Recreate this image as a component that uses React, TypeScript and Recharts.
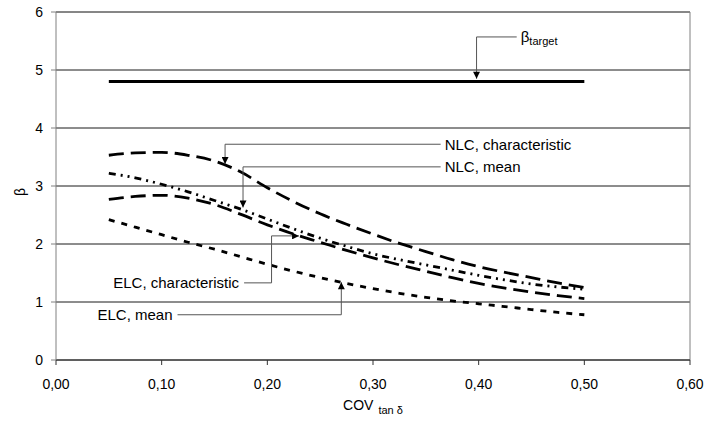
import React from 'react';
import { LineChart, Line, XAxis, YAxis, CartesianGrid, ReferenceLine, ReferenceDot } from 'recharts';

// COV of tan delta (x) and reliability index beta for each model
const cov = [0.05, 0.075, 0.1, 0.125, 0.15, 0.175, 0.2, 0.225, 0.25, 0.275, 0.3, 0.325, 0.35, 0.375, 0.4, 0.425, 0.45, 0.475, 0.5];
const betaTarget = [4.8, 4.8, 4.8, 4.8, 4.8, 4.8, 4.8, 4.8, 4.8, 4.8, 4.8, 4.8, 4.8, 4.8, 4.8, 4.8, 4.8, 4.8, 4.8];
const nlcCharacteristic = [3.53, 3.57, 3.58, 3.53, 3.43, 3.24, 2.97, 2.73, 2.52, 2.34, 2.17, 2.01, 1.87, 1.73, 1.61, 1.51, 1.42, 1.33, 1.25];
const nlcMean = [3.22, 3.14, 3.03, 2.9, 2.75, 2.6, 2.43, 2.26, 2.1, 1.96, 1.83, 1.73, 1.64, 1.55, 1.46, 1.38, 1.31, 1.26, 1.22];
const elcCharacteristic = [2.77, 2.82, 2.84, 2.79, 2.68, 2.51, 2.33, 2.17, 2.03, 1.89, 1.76, 1.64, 1.53, 1.42, 1.32, 1.24, 1.17, 1.11, 1.06];
const elcMean = [2.42, 2.29, 2.16, 2.03, 1.91, 1.78, 1.65, 1.53, 1.42, 1.32, 1.23, 1.15, 1.08, 1.02, 0.97, 0.92, 0.87, 0.82, 0.78];

const xTicks = [0, 0.1, 0.2, 0.3, 0.4, 0.5, 0.6];
const yTicks = [0, 1, 2, 3, 4, 5, 6];

// leader lines of the callouts, in data units; the last leg ends in an arrow
const leaders: [number, number][][] = [
  [[0.436, 5.57], [0.398, 5.57], [0.398, 4.85]],
  [[0.364, 3.72], [0.16, 3.72], [0.16, 3.38]],
  [[0.364, 3.33], [0.177, 3.33], [0.177, 2.63]],
  [[0.178, 1.33], [0.204, 1.33], [0.204, 2.14], [0.23, 2.14]],
  [[0.115, 0.78], [0.27, 0.78], [0.27, 1.34]],
];

const callouts = [
  { x: 0.436, y: 5.57, text: 'β', sub: 'target', anchor: 'start' },
  { x: 0.364, y: 3.72, text: 'NLC, characteristic', anchor: 'start' },
  { x: 0.364, y: 3.33, text: 'NLC, mean', anchor: 'start' },
  { x: 0.178, y: 1.33, text: 'ELC, characteristic', anchor: 'end' },
  { x: 0.115, y: 0.78, text: 'ELC, mean', anchor: 'end' },
];

const data = cov.map((c, i) => ({
  cov: c,
  target: betaTarget[i],
  nlcChar: nlcCharacteristic[i],
  nlcMean: nlcMean[i],
  elcChar: elcCharacteristic[i],
  elcMean: elcMean[i],
}));

const FONT = 'Arial, "Liberation Sans", sans-serif';

const fmt = (v: number) => v.toFixed(2).replace('.', ',');

const XTitle = (props: any) => {
  const { x, y, width } = props.viewBox;
  return (
    <text x={x + width / 2} y={y + 50} textAnchor="middle" fontFamily={FONT} fontSize={14} fill="#000">
      <tspan>COV</tspan>
      <tspan fontSize={11} dx={5} dy={4}>tan δ</tspan>
    </text>
  );
};

const YTitle = (props: any) => {
  const { x } = props.viewBox;
  const cx = x + 14;
  const cy = 192;
  return (
    <text x={cx} y={cy} transform={`rotate(-90, ${cx}, ${cy})`} textAnchor="middle" dominantBaseline="central" fontFamily={FONT} fontSize={14} fill="#000">
      β
    </text>
  );
};

const App: React.FC = () => {
  return (
    <div style={{ position: 'absolute', left: 0, top: 0, width: 707, height: 425, background: '#fff' }}>
      <svg width={0} height={0} style={{ position: 'absolute' }}>
        <defs>
          <marker id="arrowHead" viewBox="0 0 10 10" refX={10} refY={5} markerWidth={8} markerHeight={7} markerUnits="userSpaceOnUse" orient="auto">
            <path d="M0,0 L10,5 L0,10 z" fill="#000" />
          </marker>
        </defs>
      </svg>
      <LineChart width={707} height={425} data={data} margin={{ top: 12, right: 17, bottom: 15, left: 6 }}>
        <CartesianGrid vertical={false} stroke="#1a1a1a" strokeWidth={1} />
        <XAxis
          dataKey="cov"
          type="number"
          domain={[0, 0.6]}
          ticks={xTicks}
          tickFormatter={fmt}
          height={50}
          stroke="#333"
          tickSize={5}
          tickMargin={14}
          tick={{ fill: '#000', fontSize: 14, fontFamily: FONT }}
          label={<XTitle />}
        />
        <YAxis
          type="number"
          domain={[0, 6]}
          ticks={yTicks}
          width={50}
          stroke="#808080"
          tickSize={5}
          tickMargin={8}
          tick={{ fill: '#000', fontSize: 14, fontFamily: FONT }}
          label={<YTitle />}
        />
        <ReferenceLine y={6} stroke="#808080" />
        <ReferenceLine x={0.6} stroke="#808080" />

        <Line type="monotone" dataKey="target" stroke="#000" strokeWidth={3} dot={false} isAnimationActive={false} />
        <Line type="monotone" dataKey="nlcChar" stroke="#000" strokeWidth={2.8} strokeDasharray="15 7" dot={false} isAnimationActive={false} />
        <Line type="monotone" dataKey="nlcMean" stroke="#000" strokeWidth={2.8} strokeDasharray="7 5 2 5 2 5" dot={false} isAnimationActive={false} />
        <Line type="monotone" dataKey="elcChar" stroke="#000" strokeWidth={2.8} strokeDasharray="15 7" dot={false} isAnimationActive={false} />
        <Line type="monotone" dataKey="elcMean" stroke="#000" strokeWidth={2.8} strokeDasharray="6 7" dot={false} isAnimationActive={false} />

        {leaders.map((pts, li) =>
          pts.slice(1).map((p, si) => (
            <ReferenceLine
              key={`l${li}-${si}`}
              segment={[{ x: pts[si][0], y: pts[si][1] }, { x: p[0], y: p[1] }]}
              shape={(sp: any) => (
                <line
                  x1={sp.x1}
                  y1={sp.y1}
                  x2={sp.x2}
                  y2={sp.y2}
                  stroke="#555"
                  strokeWidth={1}
                  markerEnd={si === pts.length - 2 ? 'url(#arrowHead)' : undefined}
                />
              )}
            />
          ))
        )}

        {callouts.map((c, i) => (
          <ReferenceDot
            key={`c${i}`}
            x={c.x}
            y={c.y}
            r={0}
            shape={(dp: any) => (
              <text
                x={dp.cx + (c.anchor === 'start' ? 4 : -5)}
                y={dp.cy}
                textAnchor={c.anchor as any}
                dominantBaseline="central"
                fontFamily={FONT}
                fontSize={15}
                fill="#000"
              >
                {c.text}
                {c.sub ? <tspan fontSize={11} dy={4}>{c.sub}</tspan> : null}
              </text>
            )}
          />
        ))}
      </LineChart>
    </div>
  );
};

export default App;
